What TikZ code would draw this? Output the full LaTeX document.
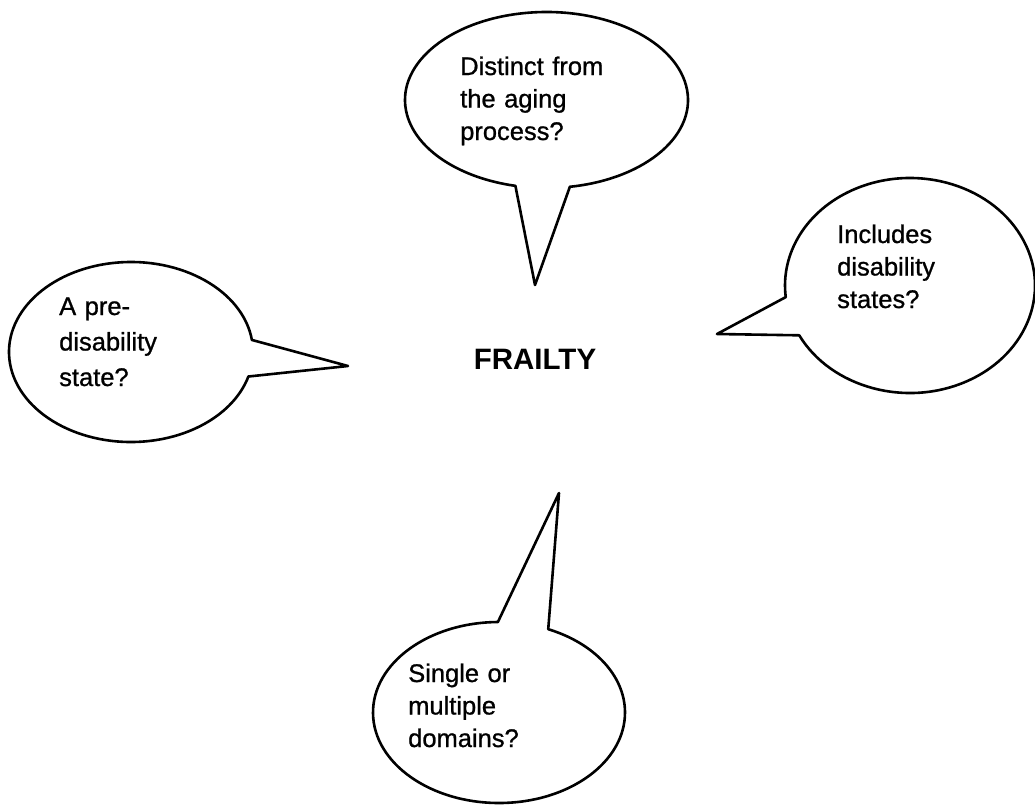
\documentclass[tikz,border=0pt]{standalone}
\usepackage{fontspec}
\setmainfont{Liberation Sans}
\newfontfamily\qfont[FakeBold=0.9]{Liberation Sans}
\begin{document}
\begin{tikzpicture}[x=1pt,y=1pt,
  bubble/.style={draw=black, line width=2.6pt, line join=round, fill=white},
  qtext/.style={anchor=base west, inner sep=0pt, align=left, text width=200pt,
    font=\qfont\fontsize{25.5}{32.5}\selectfont},
  title/.style={anchor=base, inner sep=0pt, font=\fontsize{29.5}{35}\selectfont\bfseries}]
\useasboundingbox (0,0) rectangle (1035,-806);
% centres and tips
\coordinate (cT) at (546.5,-100);
\coordinate (tipT) at (535,-285);
\coordinate (cR) at (910,-285.5);
\coordinate (tipR) at (717,-334);
\coordinate (cL) at (131,-352);
\coordinate (tipL) at (348,-366);
\coordinate (cB) at (499,-712.5);
\coordinate (tipB) at (559,-493);
% bubbles
\draw[bubble] (cT) ++(-80.5:141.5 and 88) arc[start angle=-80.5, end angle=257.3, x radius=141.5, y radius=88] -- (tipT) -- cycle;
\draw[bubble] (cR) ++(207.6:125 and 107.5) arc[start angle=207.6, end angle=546.2, x radius=125, y radius=107.5] -- (tipR) -- cycle;
\draw[bubble] (cL) ++(7.7:122 and 90) arc[start angle=7.7, end angle=344.2, x radius=122, y radius=90] -- (tipL) -- cycle;
\draw[bubble] (cB) ++(90.5:126 and 90.5) arc[start angle=90.5, end angle=427, x radius=126, y radius=90.5] -- (tipB) -- cycle;
% texts
\node[qtext] (qT) at (460,-75) {Distinct from\\the aging\\process?};
\node[qtext] (qR) at (837,-243) {Includes\\disability\\states?};
\node[qtext, font=\qfont\fontsize{25.5}{35.5}\selectfont] (qL) at (59,-315) {A pre-\\disability\\state?};
\node[qtext] (qB) at (408,-682) {Single or\\multiple\\domains?};
\node[title] (frailty) at (535,-369) {FRAILTY};
\end{tikzpicture}
\end{document}
